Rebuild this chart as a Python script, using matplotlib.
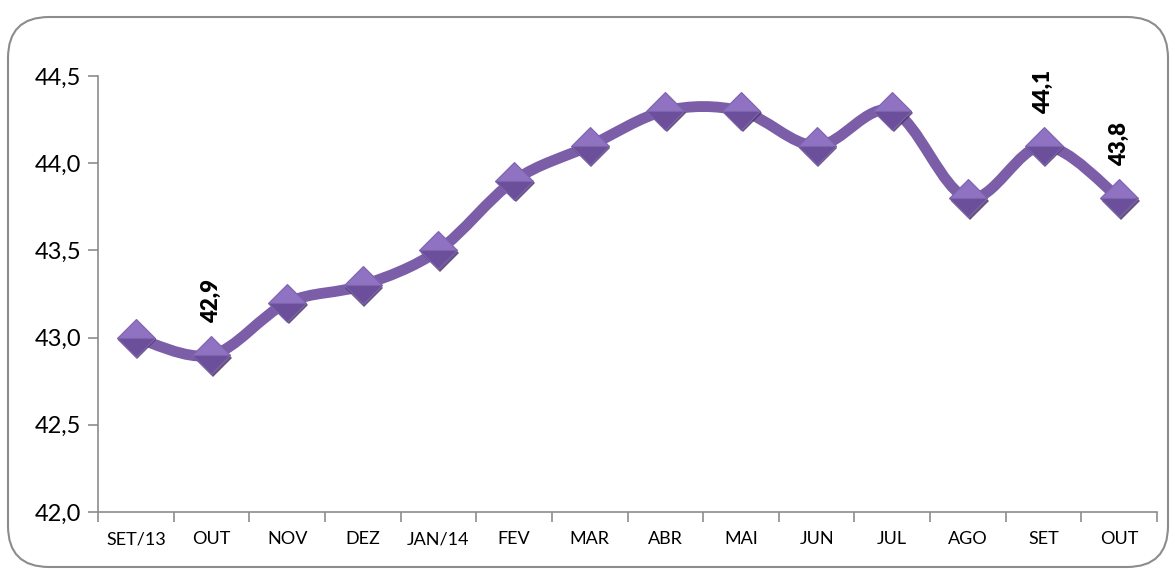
import matplotlib
matplotlib.use("Agg")
import matplotlib.pyplot as plt
from matplotlib.path import Path
from matplotlib.patches import PathPatch, FancyBboxPatch
from matplotlib.ticker import FuncFormatter, FixedLocator
import matplotlib.transforms as mtransforms
import numpy as np

categories = ["SET/13", "OUT", "NOV", "DEZ", "JAN/14", "FEV", "MAR", "ABR",
              "MAI", "JUN", "JUL", "AGO", "SET", "OUT"]
values = [43.0, 42.9, 43.2, 43.3, 43.5, 43.9, 44.1, 44.3, 44.3, 44.1, 44.3, 43.8, 44.1, 43.8]
labeled_idx = [1, 12, 13]
yticks = [42.0, 42.5, 43.0, 43.5, 44.0, 44.5]

plt.rcParams['font.family'] = ['Lato', 'DejaVu Sans']

fig = plt.figure(figsize=(11.75, 5.72), dpi=100)
border = FancyBboxPatch((8 / 1175, 5 / 572), 1160 / 1175, 550 / 572,
                        boxstyle="round,pad=0,rounding_size=0.035",
                        transform=fig.transFigure, facecolor="white",
                        edgecolor="#8c8c8c", linewidth=1.5,
                        mutation_aspect=1175 / 572, zorder=-10)
fig.patches.append(border)

ax = fig.add_axes([98 / 1175, 1 - 512 / 572, (1157 - 98) / 1175, (512 - 76) / 572])
ax.set_facecolor("none")
ax.set_zorder(5)

x = np.arange(len(values))
y = np.array(values)

# smooth line (Catmull-Rom as cubic Bezier segments)
verts = [(x[0], y[0])]
codes = [Path.MOVETO]
n = len(x)
for i in range(n - 1):
    p0 = np.array([x[max(i - 1, 0)], y[max(i - 1, 0)]])
    p1 = np.array([x[i], y[i]])
    p2 = np.array([x[i + 1], y[i + 1]])
    p3 = np.array([x[min(i + 2, n - 1)], y[min(i + 2, n - 1)]])
    c1 = p1 + (p2 - p0) / 6
    c2 = p2 - (p3 - p1) / 6
    verts += [tuple(c1), tuple(c2), tuple(p2)]
    codes += [Path.CURVE4] * 3
ax.add_patch(PathPatch(Path(verts, codes), facecolor="none", edgecolor="#7b5ea7",
                       linewidth=7.8, capstyle="round", joinstyle="round", zorder=2))

# marker shadow
ax.plot(x, y, linestyle="none", marker="D", markersize=19.5, color="#4a3568",
        markeredgewidth=0, zorder=3, alpha=0.85,
        transform=ax.transData + mtransforms.ScaledTranslation(1.2 / 72, -1.8 / 72, fig.dpi_scale_trans))
# markers (two-tone pyramid look)
ax.plot(x, y, linestyle="none", marker="D", markersize=19, fillstyle="top",
        markerfacecolor="#8f72c2", markerfacecoloralt="#6b4f9a",
        markeredgecolor="#7e64ad", markeredgewidth=0.8, zorder=4)

for i in labeled_idx:
    ax.annotate(f"{values[i]:.1f}".replace(".", ","), (x[i], y[i]),
                xytext=(0, 23), textcoords="offset points", rotation=90,
                ha="center", va="bottom", fontsize=16, fontweight="heavy",
                color="black", zorder=5)

ax.set_xlim(-0.5, n - 0.5)
ax.set_ylim(42.0, 44.5)
ax.set_yticks(yticks)
ax.yaxis.set_major_formatter(FuncFormatter(lambda v, p: f"{v:.1f}".replace(".", ",")))
ax.set_xticks(x)
ax.set_xticklabels(categories)
ax.xaxis.set_minor_locator(FixedLocator(np.arange(-0.5, n, 1.0)))
ax.tick_params(axis="x", which="major", length=0, pad=14, labelsize=13)
ax.tick_params(axis="x", which="minor", length=7, color="#8c8c8c", width=1.2)
ax.tick_params(axis="y", length=7, color="#8c8c8c", width=1.2, labelsize=17, pad=5)

for s in ["top", "right"]:
    ax.spines[s].set_visible(False)
for s in ["left", "bottom"]:
    ax.spines[s].set_color("#8c8c8c")
    ax.spines[s].set_linewidth(1.2)

fig.savefig("out.png", dpi=100)
